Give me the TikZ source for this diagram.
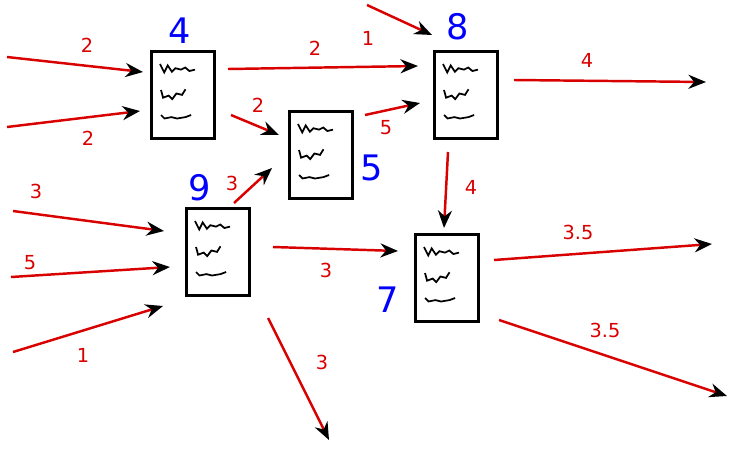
\documentclass[tikz,border=0pt]{standalone}
\usepackage{fontspec}
\setmainfont{DejaVu Sans}
\usetikzlibrary{arrows.meta}
\tikzset{
    DOC/.style ={rectangle,minimum width = 1.26cm, minimum height = 1.74cm, draw, line width=2pt, fill=white,
        path picture={
            \draw[line width=1pt,x=1.4cm,y=1.4cm] ([xshift=-0.46cm,yshift=0.62cm]path picture bounding box.center)
                -- ++(0.06,-0.12) -- ++(0.05,0.1) -- ++(0.06,-0.09) -- ++(0.05,0.05) -- ++(0.08,-0.02) -- ++(0.06,0.03) -- ++(0.06,-0.05) -- ++(0.08,0.02);
            \draw[line width=1pt,x=1.4cm,y=1.4cm] ([xshift=-0.44cm,yshift=0.1cm]path picture bounding box.center)
                -- ++(0.03,-0.11) -- ++(0.08,0.03) -- ++(0.05,-0.05) -- ++(0.06,0.08) -- ++(0.08,-0.02) -- ++(0.05,0.08);
            \draw[line width=1pt,x=1.4cm,y=1.4cm] ([xshift=-0.44cm,yshift=-0.4cm]path picture bounding box.center)
                -- ++(0.05,-0.05) -- ++(0.1,0.02) -- ++(0.08,-0.02) -- ++(0.12,0.02) -- ++(0.08,0.03);}},
    NUM/.style ={text=blue, font=\fontsize{20}{20}\selectfont},
    AR/.style ={draw=red!85!black, line width=1.4pt, -{Stealth[black,length=10pt,width=8pt]}},
    LB/.style ={text=red!85!black, font=\fontsize{11}{11}\selectfont}}
\begin{document}
\begin{tikzpicture}[x=0.02cm,y=-0.02cm]
    \useasboundingbox (0,0) rectangle (750,450);
    % documents
    \node[DOC] (d4) at (183,95){};
    \node[DOC] (d8) at (466,95){};
    \node[DOC] (d5) at (321,155){};
    \node[DOC] (d9) at (218,252){};
    \node[DOC] (d7) at (447,278){};
    \node[NUM] (n4) at (180,31){4};
    \node[NUM] (n8) at (458,27){8};
    \node[NUM] (n5) at (372,168){5};
    \node[NUM] (n9) at (200,188){9};
    \node[NUM] (n7) at (388,300){7};
    % free ends
    \coordinate (a1) at (7,57);   \coordinate (b1) at (143,72);
    \coordinate (a2) at (7,127);  \coordinate (b2) at (140,111);
    \coordinate (a3) at (228,69); \coordinate (b3) at (418,66);
    \coordinate (a4) at (367,5);  \coordinate (b4) at (432,35);
    \coordinate (a5) at (231,115);\coordinate (b5) at (279,135);
    \coordinate (a6) at (365,115);\coordinate (b6) at (420,103);
    \coordinate (a7) at (514,80); \coordinate (b7) at (706,82);
    \coordinate (a8) at (448,152);\coordinate (b8) at (444,228);
    \coordinate (a9) at (234,203);\coordinate (b9) at (272,168);
    \coordinate (a10) at (13,211);\coordinate (b10) at (164,231);
    \coordinate (a11) at (11,277);\coordinate (b11) at (170,267);
    \coordinate (a12) at (13,352);\coordinate (b12) at (163,306);
    \coordinate (a13) at (273,247);\coordinate (b13) at (398,251);
    \coordinate (a14) at (268,318);\coordinate (b14) at (329,440);
    \coordinate (a15) at (494,260);\coordinate (b15) at (712,244);
    \coordinate (a16) at (499,320);\coordinate (b16) at (727,396);
    \draw[AR] (a1) -- (b1);
    \draw[AR] (a2) -- (b2);
    \draw[AR] (a3) -- (b3);
    \draw[AR] (a4) -- (b4);
    \draw[AR] (a5) -- (b5);
    \draw[AR] (a6) -- (b6);
    \draw[AR] (a7) -- (b7);
    \draw[AR] (a8) -- (b8);
    \draw[AR] (a9) -- (b9);
    \draw[AR] (a10) -- (b10);
    \draw[AR] (a11) -- (b11);
    \draw[AR] (a12) -- (b12);
    \draw[AR] (a13) -- (b13);
    \draw[AR] (a14) -- (b14);
    \draw[AR] (a15) -- (b15);
    \draw[AR] (a16) -- (b16);
    % weights
    \node[LB] (w1) at (87,45){2};
    \node[LB] (w2) at (88,138){2};
    \node[LB] (w3) at (315,48){2};
    \node[LB] (w4) at (368,38){1};
    \node[LB] (w5) at (258,105){2};
    \node[LB] (w6) at (386,128){5};
    \node[LB] (w7) at (587,60){4};
    \node[LB] (w8) at (471,187){4};
    \node[LB] (w9) at (232,183){3};
    \node[LB] (w10) at (36,191){3};
    \node[LB] (w11) at (30,263){5};
    \node[LB] (w12) at (83,355){1};
    \node[LB] (w13) at (326,270){3};
    \node[LB] (w14) at (322,362){3};
    \node[LB] (w15) at (578,232){3.5};
    \node[LB] (w16) at (605,330){3.5};
\end{tikzpicture}
\end{document}
